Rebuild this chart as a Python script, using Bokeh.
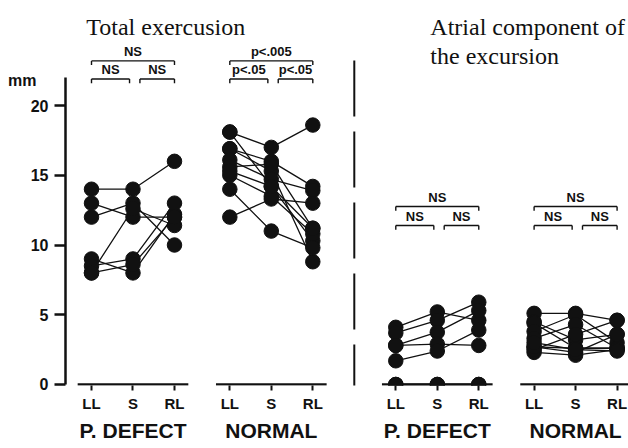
from bokeh.plotting import figure
from bokeh.models import Range1d, LinearAxis, FixedTicker, Label, Arrow
from bokeh.embed import file_html
from bokeh.resources import INLINE

# ---------------- data ----------------
categories = ["LL", "S", "RL"]
groups = ["P. DEFECT", "NORMAL"]
title_total = "Total exercusion"
title_atrial = ["Atrial component of", "the excursion"]
y_ticks = [0, 5, 10, 15, 20]
y_unit = "mm"

# Total excursion (mm), each row one subject: LL, S, RL
total_pdefect = [
    [14.0, 14.0, 16.0],
    [13.0, 12.0, 12.0],
    [12.0, 13.0, 10.0],
    [9.0, 8.0, 12.2],
    [8.5, 9.0, 13.0],
    [8.0, 12.6, 11.4],
    [8.0, 8.6, 12.0],
]
total_normal = [
    [18.1, 17.0, 18.6],
    [18.1, 14.2, 10.3],
    [16.9, 16.0, 14.2],
    [16.9, 15.3, 8.8],
    [16.1, 14.7, 13.9],
    [15.6, 15.8, 11.2],
    [15.0, 13.5, 10.8],
    [14.0, 11.0, 9.8],
    [12.0, 13.3, 13.0],
    [15.3, 14.2, 11.2],
]
# Atrial component of the excursion (mm)
atrial_pdefect = [
    [4.1, 5.2, 4.6],
    [3.7, 4.6, 5.9],
    [2.8, 3.75, 5.3],
    [2.8, 2.9, 2.8],
    [1.7, 2.4, 3.9],
    [0.0, 0.0, 0.0],
    [0.0, 0.0, 0.0],
]
atrial_normal = [
    [5.1, 5.1, 4.6],
    [4.5, 3.2, 3.6],
    [4.4, 2.6, 2.6],
    [3.8, 5.0, 3.0],
    [3.3, 4.3, 2.6],
    [2.7, 2.6, 2.6],
    [2.3, 2.1, 2.5],
    [2.5, 3.6, 4.6],
    [2.7, 2.3, 3.6],
    [3.0, 2.5, 2.4],
]
# significance labels: LL-S, S-RL, LL-RL
sig_total_pdefect = ["NS", "NS", "NS"]
sig_total_normal = ["p<.05", "p<.05", "p<.005"]
sig_atrial_pdefect = ["NS", "NS", "NS"]
sig_atrial_normal = ["NS", "NS", "NS"]

# ---------------- layout ----------------
CAT_STEP = 12
GROUP_STEP = 40
PANEL_STEP = 88
INK = "#111111"
SANS = "Liberation Sans"
SERIF = "Liberation Serif"

p = figure(frame_width=563, frame_height=385,
           x_range=Range1d(-7.52, 155.3), y_range=Range1d(-0.072, 27.53),
           x_axis_type=None, y_axis_type=None,
           output_backend="svg", toolbar_location=None,
           min_border_left=65, min_border_right=0, min_border_top=0, min_border_bottom=63,
           outline_line_color=None, background_fill_color="white")

panels = [
    ([total_pdefect, total_normal], [sig_total_pdefect, sig_total_normal], (21.9, 23.2)),
    ([atrial_pdefect, atrial_normal], [sig_atrial_pdefect, sig_atrial_normal], (11.4, 12.76)),
]

all_ticks = []
tick_labels = {}
group_ticks = []
group_labels = {}
for pi, (datasets, sigs, (lo, hi)) in enumerate(panels):
    for gi, (rows, sig) in enumerate(zip(datasets, sigs)):
        base = pi * PANEL_STEP + gi * GROUP_STEP
        xc = [base + ci * CAT_STEP for ci in range(len(categories))]
        for ci, c in enumerate(categories):
            all_ticks.append(xc[ci])
            tick_labels[xc[ci]] = c
        group_ticks.append(xc[1])
        group_labels[xc[1]] = groups[gi]
        # baseline
        p.segment(x0=[xc[0] - 4], x1=[xc[-1] + 4], y0=[0], y1=[0], line_color=INK, line_width=2.5)
        # subject lines
        xs = [xc for _ in rows]
        p.multi_line(xs=xs, ys=[list(r) for r in rows], line_color=INK, line_width=1.3)
        px = [x for r in rows for x in xc]
        py = [v for r in rows for v in r]
        p.scatter(x=px, y=py, size=14.5, marker="circle", fill_color=INK, line_color=INK)
        # brackets
        d = 0.3
        br = [(xc[0], xc[1] - 1, lo), (xc[1] + 2, xc[2], lo), (xc[0], xc[2], hi)]
        for (a, b, lev), s in zip(br, sig):
            p.segment(x0=[a, a, b], x1=[b, a, b], y0=[lev, lev, lev], y1=[lev, lev - d, lev - d],
                      line_color=INK, line_width=1.4)
            p.add_layout(Label(x=(a + b) / 2, y=lev + 0.12, text=s, text_align="center",
                               text_baseline="bottom", text_font=SANS, text_font_style="bold",
                               text_font_size="13px", text_color=INK))

# divider
p.add_layout(Arrow(x_start=76, y_start=-1.15, x_end=76, y_end=23.6, end=None,
                   line_color=INK, line_width=2, line_dash="56 15"))

# titles
p.add_layout(Label(x=-1.5, y=25.6, text=title_total, text_font=SERIF, text_font_size="24px",
                   text_baseline="alphabetic", text_align="left", text_color=INK))
p.add_layout(Label(x=98, y=25.6, text=title_atrial[0], text_font=SERIF, text_font_size="24px",
                   text_baseline="alphabetic", text_align="left", text_color=INK))
p.add_layout(Label(x=98, y=23.55, text=title_atrial[1], text_font=SERIF, text_font_size="24px",
                   text_baseline="alphabetic", text_align="left", text_color=INK))

# y axis
yaxis = LinearAxis(bounds=(0, 22), ticker=FixedTicker(ticks=y_ticks),
                   major_tick_out=11, major_tick_in=0, minor_tick_out=0, minor_tick_in=0,
                   axis_line_width=2.5, axis_line_color=INK,
                   major_tick_line_width=2.5, major_tick_line_color=INK,
                   major_label_text_font=SANS, major_label_text_font_style="bold",
                   major_label_text_font_size="16px", major_label_text_color=INK,
                   major_label_standoff=6)
p.add_layout(yaxis, "left")

# unit label of the y axis ("mm"), as an outer axis with a single label
uaxis = LinearAxis(ticker=FixedTicker(ticks=[21.8]), major_label_overrides={21.8: y_unit},
                   axis_line_color=None, major_tick_line_color=None,
                   major_tick_out=0, major_tick_in=0, minor_tick_out=0, minor_tick_in=0,
                   major_label_text_font=SANS, major_label_text_font_style="bold",
                   major_label_text_font_size="16px", major_label_text_color=INK,
                   major_label_standoff=-9)
p.add_layout(uaxis, "left")

# category axis
xaxis = LinearAxis(ticker=FixedTicker(ticks=all_ticks), major_label_overrides=tick_labels,
                   axis_line_color=None, major_tick_out=5, major_tick_in=0,
                   minor_tick_out=0, minor_tick_in=0,
                   major_tick_line_width=2, major_tick_line_color=INK,
                   major_label_text_font=SANS, major_label_text_font_style="bold",
                   major_label_text_font_size="15px", major_label_text_color=INK,
                   major_label_standoff=4)
p.add_layout(xaxis, "below")

gaxis = LinearAxis(ticker=FixedTicker(ticks=group_ticks), major_label_overrides=group_labels,
                   axis_line_color=None, major_tick_line_color=None,
                   major_tick_out=0, major_tick_in=0, minor_tick_out=0, minor_tick_in=0,
                   major_label_text_font=SANS, major_label_text_font_style="bold",
                   major_label_text_font_size="21px", major_label_text_color=INK,
                   major_label_standoff=4)
p.add_layout(gaxis, "below")

open("out.html", "w").write(file_html(p, INLINE))
